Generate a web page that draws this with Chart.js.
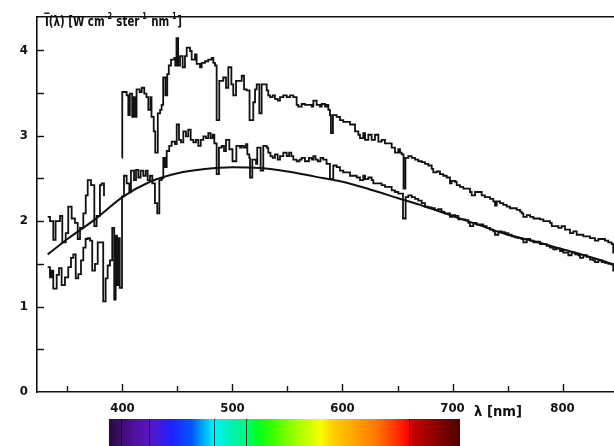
<!DOCTYPE html>
<html><head><meta charset="utf-8">
<script src="https://cdn.jsdelivr.net/npm/chart.js@4.4.1/dist/chart.umd.min.js"></script>
<style>html,body{margin:0;padding:0;background:#fff;}#wrap{width:614px;height:446px;position:relative;}</style>
</head><body><div id="wrap"><canvas id="c" width="614" height="446"></canvas></div>
<script>
// ---- data (wavelength nm, intensity) ----
const upperWl = [332.0,334.1,337.1,339.2,343.2,345.3,348.4,350.7,353.8,356.8,359.3,361.4,364.4,366.6,368.4,371.4,374.4,376.5,379.5,381.1,383.2,390,
399.7,399.8,403.8,405.3,406.7,408.8,410.0,411.4,412.8,415.6,417.5,419.8,421.8,423.5,425.5,426.4,428.4,429.8,432.1,434.2,435.6,437.0,439.0,440.7,442.1,444.1,447.1,448.0,449.1,450.6,452.3,454.7,456.8,458.4,461.4,462.9,465.9,467.4,470.5,472.0,475.0,478.0,481.1,482.6,484.1,
485.6,488.0,491.6,494.1,496.2,499.0,500.7,503.2,508.4,510.5,512.9,515.5,518.9,520.5,522.0,524.4,526.5,531.1,532.5,534.1,536.5,538.6,541.1,543.2,546.2,549.3,552.3,555.3,558.3,559.8,562.9,565.9,568.9,572.0,573.5,576.5,579.5,581.1,584.1,585.5,587.1,588.6,
589.5,591.3,594.7,597.7,600.7,603.8,606.8,609.8,611.4,614.4,615.9,618.9,620.5,623.5,626.5,629.5,632.6,635.6,638.6,641.6,644.7,647.7,650.7,652.3,653.8,655.5,657.2,659.8,662.9,665.9,668.9,
672.0,675.0,678.0,681.1,682.5,685.6,688.6,691.6,694.7,697.7,699.2,702.3,703.8,706.8,709.8,712.9,715.9,717.4,720.5,723.5,726.5,729.5,734.1,737.1,738.6,740.2,743.2,746.2,749.3,752.3,755.3,758.4,761.4,762.9,764.4,767.5,770.5,773.5,776.5,779.5,782.6,785.6,788.6,790.2,793.2,796.2,799.2,802.3,805.3,806.8,809.8,812.9,815.9,818.9,822.0,825.0,828.0,829.5,832.6,835.6,838.6,841.6,844.7,846.1,850];
const upperVal = [2.05,2.00,1.78,2.00,2.06,1.75,1.86,2.17,2.03,1.98,1.79,1.92,2.09,2.30,2.48,2.42,1.94,2.06,2.42,2.44,2.29,null,
2.74,3.51,3.47,3.24,3.49,3.22,3.45,3.22,3.54,3.51,3.56,3.49,3.45,3.30,3.45,3.22,3.05,2.80,3.26,3.30,3.36,3.68,3.47,3.72,3.82,3.89,3.91,3.82,4.14,3.82,3.93,3.80,3.93,4.03,3.99,3.89,3.95,3.84,3.80,3.85,3.87,3.89,3.91,3.85,3.82,
3.18,3.64,3.68,3.56,3.80,3.60,3.47,3.64,3.70,3.54,3.53,3.18,3.39,3.54,3.60,3.26,3.60,3.53,3.47,3.45,3.47,3.43,3.41,3.45,3.47,3.45,3.47,3.45,3.36,3.34,3.37,3.36,3.36,3.34,3.41,3.36,3.34,3.37,3.34,3.36,3.30,3.24,
3.03,3.24,3.22,3.18,3.16,3.16,3.13,3.13,3.05,3.01,2.97,3.03,2.95,3.01,2.95,3.01,2.93,2.95,2.91,2.91,2.86,2.80,2.84,2.80,2.78,2.38,2.74,2.76,2.74,2.72,2.70,
2.69,2.67,2.65,2.61,2.57,2.58,2.55,2.53,2.51,2.44,2.47,2.46,2.42,2.40,2.38,2.38,2.34,2.30,2.34,2.34,2.30,2.28,2.26,2.23,2.18,2.23,2.21,2.19,2.17,2.15,2.15,2.13,2.11,2.09,2.05,2.07,2.05,2.03,2.03,2.02,2.00,2.00,1.98,1.94,1.94,1.92,1.94,1.90,1.90,1.86,1.88,1.84,1.84,1.82,1.82,1.80,1.80,1.77,1.79,1.79,1.77,1.75,1.73,1.63,1.63];

const lowerWl = [332.0,334.1,335.6,337.1,340.2,342.3,344.7,347.7,350.7,353.2,355.3,357.5,359.8,362.3,364.4,366.5,368.4,370.5,372.5,375.0,377.5,382.5,384.7,386.5,388.6,390.7,392.5,393.8,395.0,396.2,397.5,
399.6,401.4,403.8,406.2,407.7,410.5,412.3,414.4,416.5,418.9,421.1,422.9,425.0,427.1,429.5,431.6,433.5,435.6,437.1,438.6,440.2,442.5,444.7,447.7,449.3,451.4,453.2,455.3,457.7,459.8,462.0,464.4,466.8,468.9,471.1,473.5,475.9,478.0,480.1,482.0,483.5,
485.6,487.7,490.2,492.3,494.1,497.1,500.0,503.5,506.8,508.4,510.4,512.3,513.5,515.3,515.9,518.0,521.4,522.5,524.4,525.6,528.0,531.1,532.5,534.5,536.5,538.6,541.1,543.2,546.2,549.3,551.5,553.5,555.3,558.3,561.0,562.9,565.9,567.5,569.5,572.0,573.5,575.5,577.5,580.0,582.5,585.5,
588.6,591.6,594.7,597.7,600.7,603.8,606.8,609.8,612.9,615.9,618.9,620.5,623.5,626.5,628.0,632.6,635.6,638.6,641.6,644.7,647.7,650.7,653.8,655.0,657.4,659.8,662.9,665.9,668.9,
672.0,675.0,678.0,681.1,684.0,687.0,690.0,692.5,696.0,697.7,699.9,702.3,705.3,708.3,711.4,714.4,715.9,718.9,722.0,725.0,728.0,731.1,734.1,737.1,738.6,741.7,744.7,747.7,750.8,753.8,756.8,759.9,762.9,764.4,767.5,770.5,773.5,776.5,779.5,782.6,785.6,788.6,791.6,794.7,797.7,800.7,803.8,805.3,808.3,811.4,814.4,815.9,818.9,822.0,825.0,828.0,829.5,832.6,835.6,838.6,841.6,844.7,846.1,850];
const lowerVal = [1.46,1.34,1.42,1.21,1.37,1.45,1.25,1.34,1.46,1.57,1.61,1.33,1.38,1.54,1.69,1.79,1.80,1.77,1.42,1.50,1.75,1.06,1.33,1.48,1.54,1.92,1.08,1.83,1.25,1.80,1.22,
2.29,2.53,2.44,2.34,2.59,2.48,2.60,2.51,2.59,2.53,2.59,2.48,2.53,2.44,2.21,2.09,2.48,2.50,2.74,2.63,2.82,2.88,2.93,2.90,3.13,2.95,2.92,3.05,2.99,3.07,2.95,2.92,2.95,2.88,2.95,2.99,2.97,3.03,2.97,3.01,2.91,
2.55,2.86,2.88,2.82,2.95,2.84,2.70,2.88,2.86,2.88,2.86,2.90,2.78,2.74,2.51,2.72,2.67,2.86,2.86,2.59,2.88,2.86,2.80,2.76,2.74,2.78,2.72,2.76,2.80,2.76,2.80,2.76,2.72,2.70,2.72,2.74,2.70,2.70,2.74,2.72,2.76,2.72,2.70,2.74,2.72,2.67,
2.49,2.65,2.63,2.59,2.57,2.57,2.53,2.53,2.51,2.48,2.53,2.49,2.51,2.48,2.44,2.44,2.42,2.40,2.40,2.36,2.34,2.32,2.32,2.03,2.28,2.30,2.28,2.26,2.24,
2.21,2.17,2.16,2.15,2.13,2.14,2.11,2.09,2.09,2.05,2.07,2.06,2.02,2.02,2.01,1.98,1.94,1.98,1.96,1.96,1.94,1.92,1.90,1.88,1.84,1.88,1.87,1.86,1.84,1.82,1.81,1.80,1.79,1.75,1.79,1.77,1.75,1.76,1.73,1.73,1.71,1.69,1.67,1.68,1.65,1.63,1.63,1.60,1.63,1.61,1.60,1.57,1.60,1.58,1.55,1.54,1.52,1.54,1.52,1.51,1.50,1.49,1.42,1.42];

const curveWl  = [332,350,375,400,425,450,475,500,525,550,575,600,625,650,675,700,725,750,775,800,825,850];
const curveVal = [1.61,1.79,2.02,2.28,2.46,2.56,2.61,2.63,2.62,2.58,2.52,2.46,2.37,2.27,2.17,2.06,1.95,1.84,1.76,1.67,1.58,1.48];

const xTickValues = [350,400,450,500,550,600,650,700,750,800,850];
const yTickValues = [0.5,1,1.5,2,2.5,3,3.5,4];

// colour strip under the axis (wavelength, colour)
const spectrumWl = [387.7,398.3,410,423.9,445.0,463.2,475.0,483.2,499.5,512.3,523.2,537.7,559.2,580.4,589.5,608.6,630.4,644.6,660.0,662.3,706.8];
const spectrumColors = ['#2c0a3c','#3e0c6e','#4e109a','#5a14c0','#2020ff','#0058ff','#00b8ff','#00f0ff','#00f0b0','#00f880','#00ff20','#40ff00','#a8ff00','#f8ff00','#ffd400','#ffaa00','#ff7800','#ff4400','#ff0000','#cc0000','#500000'];
const fraunhoferWl = [398.3,423.9,483.2,512.3,660.0];

const FONT = '"Liberation Sans Narrow","DejaVu Sans Condensed","Roboto Condensed","Liberation Sans",sans-serif';
const INK = '#111111';

function pts(w, v) { return w.map((x, i) => ({ x: x, y: v[i] })); }

const deco = {
  id: 'deco',
  afterDraw(chart) {
    const ctx = chart.ctx, a = chart.chartArea, x = chart.scales.x, y = chart.scales.y;
    ctx.save();
    ctx.strokeStyle = INK; ctx.lineWidth = 1.4;
    ctx.beginPath(); ctx.moveTo(a.left, a.top); ctx.lineTo(a.right, a.top); ctx.stroke();
    xTickValues.forEach(v => {
      const px = Math.round(x.getPixelForValue(v)) + 0.5;
      const len = v % 100 === 0 ? 8 : 6;
      ctx.beginPath(); ctx.moveTo(px, a.bottom); ctx.lineTo(px, a.bottom - len); ctx.stroke();
    });
    yTickValues.forEach(v => {
      const py = Math.round(y.getPixelForValue(v)) + 0.5;
      ctx.beginPath(); ctx.moveTo(a.left, py); ctx.lineTo(a.left + 7, py); ctx.stroke();
    });
    // y title inside the frame, squeezed to the reference width
    ctx.fillStyle = INK; ctx.textBaseline = 'alphabetic'; ctx.textAlign = 'left';
    const base = 26;
    const parts = [['I(λ) [W cm', 0], ['-2', 1], [' ster', 0], ['-1', 1], [' nm', 0], ['-1', 1], [']', 0]];
    const fontFor = s => (s ? 'bold 9px ' : 'bold 14px ') + FONT;
    let total = 0;
    parts.forEach(p => { ctx.font = fontFor(p[1]); total += ctx.measureText(p[0]).width + (p[1] ? 1 : 0); });
    const sx = 137 / total;
    ctx.save();
    ctx.translate(45, 0); ctx.scale(sx, 1);
    let xx = 0;
    parts.forEach(p => {
      ctx.font = fontFor(p[1]);
      ctx.fillText(p[0], xx, p[1] ? base - 7 : base);
      xx += ctx.measureText(p[0]).width + (p[1] ? 1 : 0);
    });
    ctx.font = fontFor(0);
    const iw = ctx.measureText('I').width;
    ctx.fillRect(-1, base - 13.5, iw + 2, 1.4);
    ctx.restore();
    // x title
    ctx.save();
    ctx.font = 'bold 14px ' + FONT;
    const lw = ctx.measureText('λ [nm]').width;
    ctx.translate(474, 0); ctx.scale(48 / lw, 1);
    ctx.fillText('λ [nm]', 0, 416);
    ctx.restore();
    // spectrum strip
    const x0 = x.getPixelForValue(spectrumWl[0]);
    const x1 = x.getPixelForValue(spectrumWl[spectrumWl.length - 1]);
    const g = ctx.createLinearGradient(x0, 0, x1, 0);
    spectrumWl.forEach((w, i) => g.addColorStop((x.getPixelForValue(w) - x0) / (x1 - x0), spectrumColors[i]));
    ctx.fillStyle = g; ctx.fillRect(x0, 419, x1 - x0, 27);
    ctx.strokeStyle = 'rgba(0,0,0,0.7)'; ctx.lineWidth = 1;
    fraunhoferWl.forEach(w => {
      const px = Math.round(x.getPixelForValue(w)) + 0.5;
      ctx.beginPath(); ctx.moveTo(px, 419); ctx.lineTo(px, 446); ctx.stroke();
    });
    ctx.restore();
  }
};

new Chart(document.getElementById('c'), {
  type: 'line',
  data: {
    datasets: [
      { label: 'Planck', data: pts(curveWl, curveVal), borderColor: INK, borderWidth: 2, pointRadius: 0, cubicInterpolationMode: 'monotone', fill: false },
      { label: 'lower', data: pts(lowerWl, lowerVal), borderColor: INK, borderWidth: 1.8, pointRadius: 0, stepped: 'before', fill: false, borderJoinStyle: 'miter' },
      { label: 'upper', data: pts(upperWl, upperVal), borderColor: INK, borderWidth: 1.8, pointRadius: 0, stepped: 'before', fill: false, spanGaps: false, borderJoinStyle: 'miter' }
    ]
  },
  options: {
    responsive: false, animation: false, devicePixelRatio: 1,
    layout: { padding: { top: 10, right: 0, left: 0, bottom: 0 } },
    plugins: { legend: { display: false }, tooltip: { enabled: false } },
    scales: {
      x: {
        type: 'linear', min: 322.3, max: 846.8,
        grid: { display: false, drawTicks: false },
        border: { display: true, color: INK, width: 1.6 },
        ticks: { stepSize: 50, includeBounds: false, autoSkip: false, maxRotation: 0, padding: 9, color: INK,
          font: { family: FONT, size: 13, weight: 'bold' }, callback: v => (v % 100 === 0 ? String(v) : '') },
        afterFit: s => { s.height = 54; }
      },
      y: {
        min: 0, max: 4.39,
        grid: { display: false, drawTicks: false },
        border: { display: true, color: INK, width: 1.6 },
        ticks: { stepSize: 0.5, includeBounds: false, autoSkip: false, padding: 9, color: INK,
          font: { family: FONT, size: 13, weight: 'bold' }, callback: v => (Number.isInteger(v) ? String(v) : '') },
        afterFit: s => { s.width = 37; }
      }
    }
  },
  plugins: [deco]
});
</script>
</body></html>
